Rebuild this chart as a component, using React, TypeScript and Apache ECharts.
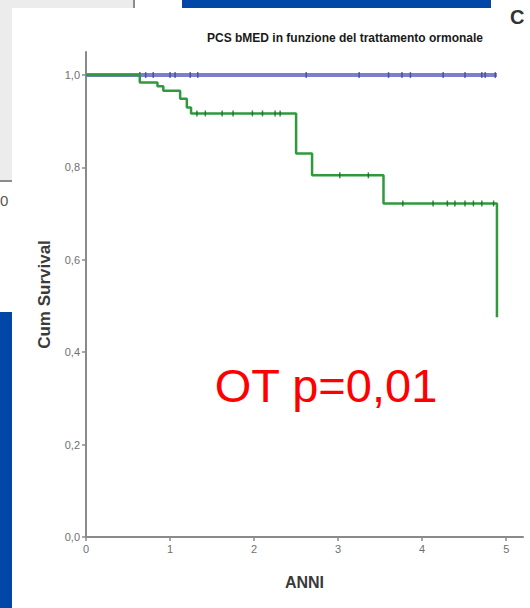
import React, { useEffect, useRef } from "react";
import * as echarts from "echarts";

const chartTitle = "PCS bMED in funzione del trattamento ormonale";
const xTicks = [0, 1, 2, 3, 4, 5];
const yTicks = [0, 0.2, 0.4, 0.6, 0.8, 1.0];

// blue group (survival stays at 1.0)
const blueTimes = [0, 4.89];
const blueValues = [1.0, 1.0];
const blueCensorTimes = [0.64, 0.71, 0.8, 1.0, 1.06, 1.24, 1.33, 2.62, 3.25, 3.6, 3.76, 3.86, 4.25, 4.51, 4.71, 4.75, 4.87];

// green group (step function)
const greenTimes = [0, 0.64, 0.85, 0.92, 1.12, 1.2, 1.25, 2.5, 2.69, 3.54, 4.89];
const greenValues = [1.0, 0.984, 0.976, 0.966, 0.949, 0.93, 0.917, 0.83, 0.783, 0.722, 0.476];
const greenCensorTimes = [1.32, 1.42, 1.62, 1.75, 1.98, 2.1, 2.25, 2.31, 3.02, 3.36, 3.77, 4.13, 4.3, 4.39, 4.51, 4.61, 4.71, 4.85];
const greenCensorValues = [0.917, 0.917, 0.917, 0.917, 0.917, 0.917, 0.917, 0.917, 0.783, 0.783, 0.722, 0.722, 0.722, 0.722, 0.722, 0.722, 0.722, 0.722];

const annotation = "OT p=0,01";

export default function App() {
  const ref = useRef<HTMLDivElement>(null);
  useEffect(() => {
    if (!ref.current) return;
    const chart = echarts.init(ref.current, null, { renderer: "svg" });
    const axisColor = "#8a8a8a";
    const labelColor = "#6f6f6f";
    chart.setOption({
      animation: false,
      backgroundColor: "#ffffff",
      grid: { left: 86, top: 52, right: 7, bottom: 71, containLabel: false },
      xAxis: {
        type: "value",
        min: 0,
        max: 5.2,
        interval: 1,
        name: "ANNI",
        nameLocation: "middle",
        nameGap: 37,
        nameTextStyle: { fontFamily: "Liberation Sans", fontWeight: "bold", fontSize: 16, color: "#3a3a3a" },
        axisLine: { show: true, lineStyle: { color: axisColor, width: 2 } },
        axisTick: { show: true, length: 4, customValues: xTicks, lineStyle: { color: axisColor, width: 1.5 } },
        axisLabel: {
          customValues: xTicks,
          fontFamily: "Liberation Sans",
          fontSize: 11,
          color: labelColor,
          margin: 6,
          formatter: (v: number) => String(v),
        },
        splitLine: { show: false },
      },
      yAxis: {
        type: "value",
        min: 0,
        max: 1.05,
        interval: 0.2,
        name: "Cum Survival",
        nameLocation: "middle",
        nameGap: 33,
        nameRotate: 90,
        nameTextStyle: { fontFamily: "Liberation Sans", fontWeight: "bold", fontSize: 17, color: "#3a3a3a" },
        axisLine: { show: true, lineStyle: { color: axisColor, width: 2 } },
        axisTick: { show: true, length: 4, customValues: yTicks, lineStyle: { color: axisColor, width: 1.5 } },
        axisLabel: {
          customValues: yTicks,
          fontFamily: "Liberation Sans",
          fontSize: 11,
          color: labelColor,
          margin: 6,
          formatter: (v: number) => v.toFixed(1).replace(".", ","),
        },
        splitLine: { show: false },
      },
      series: [
        {
          type: "line",
          step: "end",
          data: blueTimes.map((t, i) => [t, blueValues[i]]),
          showSymbol: false,
          lineStyle: { color: "#7c80cc", width: 4 },
          z: 2,
        },
        {
          type: "scatter",
          data: blueCensorTimes.map((t) => [t, 1.0]),
          symbol: "rect",
          symbolSize: [1.5, 6],
          itemStyle: { color: "#3d4196" },
          z: 3,
        },
        {
          type: "line",
          step: "end",
          data: greenTimes.map((t, i) => [t, greenValues[i]]),
          showSymbol: false,
          lineStyle: { color: "#2f9a3c", width: 2.5 },
          z: 4,
        },
        {
          type: "scatter",
          data: greenCensorTimes.map((t, i) => [t, greenCensorValues[i]]),
          symbol: "rect",
          symbolSize: [1.5, 6],
          itemStyle: { color: "#1f5f2a" },
          z: 5,
        },
      ],
      graphic: [
        // gray box top-left
        { type: "rect", shape: { x: 0, y: 0, width: 134, height: 8 }, style: { fill: "#ececec" }, z: 10 },
        { type: "rect", shape: { x: 0, y: 0, width: 12, height: 181 }, style: { fill: "#ececec" }, z: 10 },
        { type: "rect", shape: { x: 133, y: 0, width: 2, height: 8 }, style: { fill: "#8c8c8c" }, z: 11 },
        { type: "rect", shape: { x: 0, y: 180, width: 12, height: 2 }, style: { fill: "#8c8c8c" }, z: 11 },
        { type: "text", x: 0, y: 193, style: { text: "0", fontFamily: "Liberation Sans", fontSize: 15, fill: "#555" }, z: 11 },
        // blue bars
        { type: "rect", shape: { x: 182, y: 0, width: 309, height: 8 }, style: { fill: "#0047a8" }, z: 10 },
        { type: "rect", shape: { x: 0, y: 312, width: 12, height: 296 }, style: { fill: "#0047a8" }, z: 10 },
        // right side glyph
        { type: "text", x: 510, y: 7, style: { text: "C", fontFamily: "Liberation Sans", fontWeight: "bold", fontSize: 20, fill: "#333" }, z: 11 },
        // title
        {
          type: "text",
          x: 207,
          y: 32,
          style: {
            text: chartTitle,
            fontFamily: "Liberation Sans",
            fontWeight: "bold",
            fontSize: 12,
            fill: "#1a1a1a",
            width: 290,
            overflow: "truncate",
            ellipsis: "",
          },
          z: 11,
        },
        // red annotation
        {
          type: "text",
          x: 326,
          y: 385,
          style: {
            text: annotation,
            fontFamily: "Liberation Sans",
            fontSize: 47,
            fill: "#ff0000",
            align: "center",
            verticalAlign: "middle",
          },
          z: 12,
        },
      ],
    });
    return () => chart.dispose();
  }, []);
  return <div ref={ref} style={{ position: "fixed", left: 0, top: 0, width: 530, height: 608 }} />;
}
